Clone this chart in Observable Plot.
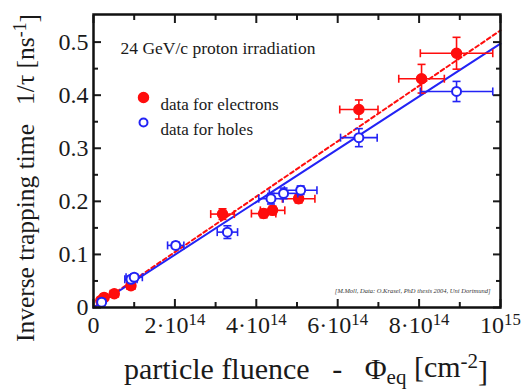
<!DOCTYPE html>
<html><head><meta charset="utf-8">
<script src="https://cdn.jsdelivr.net/npm/d3@7"></script>
<script src="https://cdn.jsdelivr.net/npm/@observablehq/plot@0.6"></script>
<style>body{margin:0;background:#fff} #chart svg, #chart svg text{font-family:"Liberation Serif","Times New Roman",serif}</style>
</head><body><div id="chart"></div>
<script>
// fluence in units of 1e14 cm^-2, 1/tau in ns^-1
const eX    = [0.18, 0.26, 0.51, 0.92, 3.17, 4.18, 4.40, 5.04, 6.52, 8.06, 8.92];
const eY    = [0.013, 0.019, 0.026, 0.041, 0.176, 0.177, 0.183, 0.205, 0.373, 0.431, 0.479];
const eXerr = [0.08, 0.08, 0.10, 0.10, 0.29, 0.30, 0.30, 0.40, 0.47, 0.56, 0.89];
const eYerr = [0.004, 0.004, 0.005, 0.005, 0.010, 0.008, 0.008, 0.008, 0.018, 0.027, 0.030];
const hX    = [0.20, 0.92, 1.00, 2.02, 3.29, 4.36, 4.67, 5.09, 6.52, 8.92];
const hY    = [0.010, 0.053, 0.057, 0.117, 0.142, 0.205, 0.215, 0.221, 0.320, 0.407];
const hXerr = [0.08, 0.15, 0.20, 0.20, 0.25, 0.30, 0.35, 0.40, 0.45, 0.89];
const hYerr = [0.004, 0.006, 0.006, 0.006, 0.012, 0.010, 0.010, 0.008, 0.017, 0.019];
// fitted slopes (ns^-1 per 1e14 cm^-2)
const fitSlopeElectrons = 0.0522;
const fitSlopeHoles = 0.0497;
const xTickValues = [0, 2, 4, 6, 8, 10];
const xTickLabels = ["0", "2·10^14", "4·10^14", "6·10^14", "8·10^14", "10^15"];
const xMinorTicks = [1, 3, 5, 7, 9];
const yTickValues = [0, 0.1, 0.2, 0.3, 0.4, 0.5];
const yTickLabels = ["0", "0.1", "0.2", "0.3", "0.4", "0.5"];
const yMinorTicks = [0.05, 0.15, 0.25, 0.35, 0.45];
const titleText = "24 GeV/c proton irradiation";
const legendLabels = ["data for electrons", "data for holes"];
const citation = "[M.Moll, Data: O.Krasel, PhD thesis 2004, Uni Dortmund]";

const FONT = "Liberation Serif, Times New Roman, serif";
const RED = "#ff0d0d", BLUE = "#2323f5";
const rows = (X, Y, XE, YE) => X.map((x, i) => ({x, y: Y[i], xe: XE[i], ye: YE[i]}));
const elec = rows(eX, eY, eXerr, eYerr);
const holes = rows(hX, hY, hXerr, hYerr);
const fitX = [0, 10];
const fitE = fitX.map(x => ({x, y: x * fitSlopeElectrons}));
const fitH = fitX.map(x => ({x, y: x * fitSlopeHoles}));

const vbar = {draw(ctx, size) { const r = Math.sqrt(size / Math.PI); ctx.moveTo(0, -r); ctx.lineTo(0, r); }};
const hbar = {draw(ctx, size) { const r = Math.sqrt(size / Math.PI); ctx.moveTo(-r, 0); ctx.lineTo(r, 0); }};

function errMarks(data, color, filled) {
  return [
    Plot.link(data, {x1: d => d.x - d.xe, x2: d => d.x + d.xe, y1: "y", y2: "y", stroke: color, strokeWidth: 1.6}),
    Plot.link(data, {x1: "x", x2: "x", y1: d => d.y - d.ye, y2: d => d.y + d.ye, stroke: color, strokeWidth: 1.6}),
    Plot.dot(data, {x: d => d.x - d.xe, y: "y", symbol: vbar, r: 4, stroke: color, strokeWidth: 1.6, fill: "none"}),
    Plot.dot(data, {x: d => d.x + d.xe, y: "y", symbol: vbar, r: 4, stroke: color, strokeWidth: 1.6, fill: "none"}),
    Plot.dot(data, {x: "x", y: d => d.y - d.ye, symbol: hbar, r: 4, stroke: color, strokeWidth: 1.6, fill: "none"}),
    Plot.dot(data, {x: "x", y: d => d.y + d.ye, symbol: hbar, r: 4, stroke: color, strokeWidth: 1.6, fill: "none"}),
    filled
      ? Plot.dot(data, {x: "x", y: "y", r: 5, fill: color, stroke: color})
      : Plot.dot(data, {x: "x", y: "y", r: 4.5, fill: "white", stroke: color, strokeWidth: 2})
  ];
}

const tickOnly = () => "";
const plot = Plot.plot({
  width: 524, height: 390,
  marginLeft: 93, marginRight: 24, marginTop: 14, marginBottom: 83,
  x: {domain: [0, 10.0], label: null},
  y: {domain: [0, 0.552], label: null},
  style: {background: "white", fontFamily: FONT, color: "#1a1a1a"},
  marks: [
    // inward ticks on all four sides
    Plot.axisX(xTickValues, {anchor: "bottom", tickSize: -8, tickFormat: tickOnly, strokeWidth: 2, label: null}),
    Plot.axisX(xMinorTicks, {anchor: "bottom", tickSize: -5, tickFormat: tickOnly, strokeWidth: 2, label: null}),
    Plot.axisX(xTickValues, {anchor: "top", tickSize: -8, tickFormat: tickOnly, strokeWidth: 2, label: null}),
    Plot.axisX(xMinorTicks, {anchor: "top", tickSize: -5, tickFormat: tickOnly, strokeWidth: 2, label: null}),
    Plot.axisY(yTickValues, {anchor: "left", tickSize: -8, tickFormat: tickOnly, strokeWidth: 2, label: null}),
    Plot.axisY(yMinorTicks, {anchor: "left", tickSize: -5, tickFormat: tickOnly, strokeWidth: 2, label: null}),
    Plot.axisY(yTickValues, {anchor: "right", tickSize: -8, tickFormat: tickOnly, strokeWidth: 2, label: null}),
    Plot.axisY(yMinorTicks, {anchor: "right", tickSize: -5, tickFormat: tickOnly, strokeWidth: 2, label: null}),
    // tick labels
    Plot.axisX(xTickValues, {anchor: "bottom", tickSize: 0, tickPadding: 8, fontSize: 24, fill: "#1a1a1a",
      tickFormat: d => xTickLabels[xTickValues.indexOf(d)], label: null}),
    Plot.axisY(yTickValues, {anchor: "left", tickSize: 0, tickPadding: 5, fontSize: 24, fill: "#1a1a1a",
      tickFormat: d => yTickLabels[yTickValues.indexOf(d)], label: null}),
    // fits
    Plot.line(fitE, {x: "x", y: "y", stroke: RED, strokeWidth: 2, strokeDasharray: "4,3"}),
    Plot.line(fitH, {x: "x", y: "y", stroke: BLUE, strokeWidth: 2}),
    ...errMarks(elec, RED, true),
    ...errMarks(holes, BLUE, false),
    // title, legend, citation
    Plot.text([titleText], {frameAnchor: "top-left", dx: 27, dy: 27, textAnchor: "start", fontSize: 17.5, fill: "#1a1a1a"}),
    Plot.dot([legendLabels[0]], {frameAnchor: "top-left", dx: 50, dy: 83, r: 5, fill: RED, stroke: RED}),
    Plot.dot([legendLabels[1]], {frameAnchor: "top-left", dx: 50, dy: 108, r: 4, fill: "white", stroke: BLUE, strokeWidth: 2}),
    Plot.text([legendLabels[0]], {frameAnchor: "top-left", dx: 67, dy: 83, textAnchor: "start", fontSize: 17, fill: "#1a1a1a"}),
    Plot.text([legendLabels[1]], {frameAnchor: "top-left", dx: 67, dy: 108, textAnchor: "start", fontSize: 17, fill: "#1a1a1a"}),
    Plot.text([citation], {frameAnchor: "bottom-right", dx: -10, dy: -15, textAnchor: "end", fontSize: 6.5, fontStyle: "italic", fill: "#333"}),
    Plot.frame({stroke: "#111", strokeWidth: 2.5})
  ]
});

const svg = d3.select(plot);
// superscripts in x tick labels
svg.selectAll("[aria-label='x-axis tick label'] text").each(function() {
  const t = d3.select(this);
  const s = t.text();
  if (s.includes("^")) {
    const [base, sup] = s.split("^");
    t.text(base);
    t.append("tspan").attr("dy", "-0.45em").attr("font-size", "0.7em").text(sup);
  }
});
// axis titles
const xt = svg.append("text").attr("x", 306).attr("y", 379).attr("text-anchor", "middle")
  .attr("font-size", 30).attr("fill", "#1a1a1a");
xt.append("tspan").text("particle fluence   -   Φ");
xt.append("tspan").attr("dy", "0.22em").attr("font-size", "0.7em").text("eq");
xt.append("tspan").attr("dy", "-0.22em").text(" [cm");
xt.append("tspan").attr("dy", "-0.45em").attr("font-size", "0.7em").text("-2");
xt.append("tspan").attr("dy", "0.45em").text("]");
const yt = svg.append("text").attr("transform", "translate(34,178) rotate(-90)").attr("text-anchor", "middle")
  .attr("font-size", 25.5).attr("fill", "#1a1a1a");
yt.append("tspan").text("Inverse trapping time   1/τ [ns");
yt.append("tspan").attr("dy", "-0.45em").attr("font-size", "0.7em").text("-1");
yt.append("tspan").attr("dy", "0.45em").text("]");
svg.selectAll("text").attr("font-family", FONT).style("font-family", FONT);

document.getElementById("chart").appendChild(plot);
</script></body></html>
